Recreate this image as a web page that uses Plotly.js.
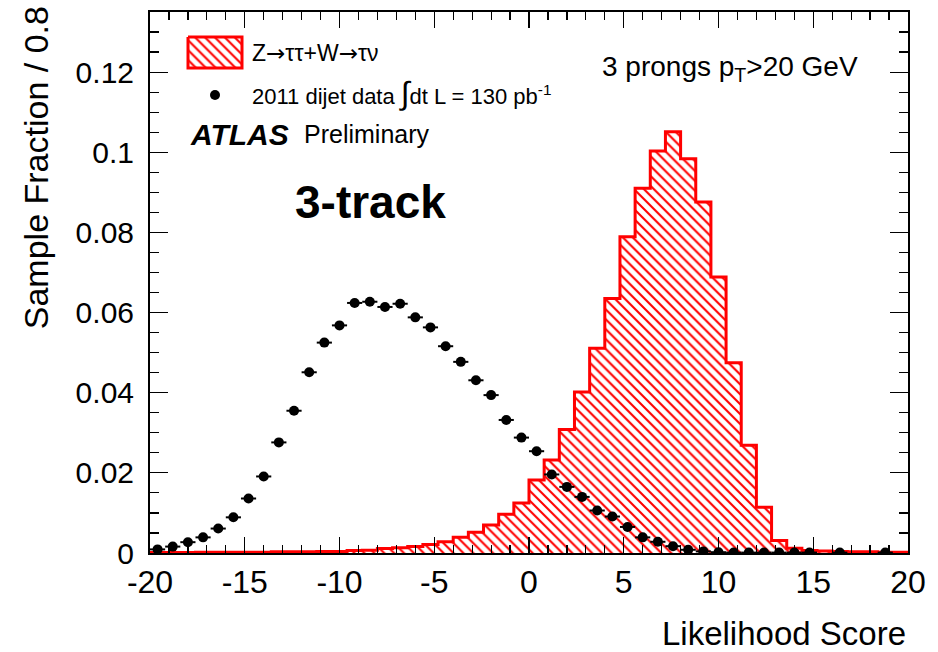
<!DOCTYPE html>
<html>
<head>
<meta charset="utf-8">
<script src="https://cdn.plot.ly/plotly-3.0.1.min.js"></script>
<style>html,body{margin:0;padding:0;background:#fff;}#chart{width:938px;height:652px;}</style>
</head>
<body>
<div id="chart"></div>
<script>
// Signal histogram (Z->tautau + W->taunu), bin centres and fractions, bin width 0.8
const binCenters = [-19.6,-18.8,-18.0,-17.2,-16.4,-15.6,-14.8,-14.0,-13.2,-12.4,
  -11.6,-10.8,-10.0,-9.2,-8.4,-7.6,-6.8,-6.0,-5.2,-4.4,
  -3.6,-2.8,-2.0,-1.2,-0.4,0.4,1.2,2.0,2.8,3.6,
  4.4,5.2,6.0,6.8,7.6,8.4,9.2,10.0,10.8,11.6,
  12.4,13.2,14.0,14.8,15.6,16.4,17.2,18.0,18.8,19.6];
const signalValues = [0.0001,0.0001,0.0001,0.0002,0.0002,0.0002,0.0002,0.0002,0.0003,0.0003,
  0.0003,0.0004,0.0004,0.0006,0.0007,0.0011,0.0013,0.0016,0.0021,0.0028,
  0.0039,0.0052,0.0070,0.0097,0.0125,0.0182,0.0232,0.0308,0.0402,0.0511,
  0.0635,0.0789,0.0910,0.1003,0.1051,0.0984,0.0876,0.0689,0.0475,0.0269,
  0.0114,0.0031,0.0012,0.0006,0.0005,0.0004,0.0003,0.0003,0.0002,0.0002];
const binWidth = 0.8;

// 2011 dijet data points
const dataX = [-19.6,-18.8,-18.0,-17.2,-16.4,-15.6,-14.8,-14.0,-13.2,-12.4,
  -11.6,-10.8,-10.0,-9.2,-8.4,-7.6,-6.8,-6.0,-5.2,-4.4,
  -3.6,-2.8,-2.0,-1.2,-0.4,0.4,1.2,2.0,2.8,3.6,
  4.4,5.2,6.0,6.8,7.6,8.4,9.2,10.0,10.8,11.6,
  12.4,13.2,14.0,14.8,16.4,18.8];
const dataY = [0.0009,0.0016,0.0027,0.0039,0.0061,0.0089,0.0136,0.0191,0.0276,0.0355,
  0.0451,0.0525,0.0568,0.0624,0.0627,0.0614,0.0622,0.0588,0.0563,0.0516,
  0.0477,0.0431,0.0394,0.0332,0.0288,0.0254,0.0196,0.0165,0.0140,0.0106,
  0.0091,0.0065,0.0039,0.0028,0.0017,0.0008,0.0004,0.0002,0.0001,0.0001,
  0.0001,0.0001,0.0001,0.0001,0.0001,0.0001];

const xTickVals = [-20,-15,-10,-5,0,5,10,15,20];
const xTickText = ['-20','-15','-10','-5','0','5','10','15','20'];
const yTickVals = [0,0.02,0.04,0.06,0.08,0.1,0.12];
const yTickText = ['0','0.02','0.04','0.06','0.08','0.1','0.12'];

const FONT = 'Liberation Sans, Arial, Helvetica, sans-serif';
const RED = '#ff0000';

// step outline from bin edges
const edges = binCenters.map(c => c - binWidth/2).concat([binCenters[binCenters.length-1] + binWidth/2]);
const stepY = signalValues.concat([signalValues[signalValues.length-1]]);

const hatch = {shape:'\\', fgcolor:RED, bgcolor:'white', size:7, solidity:0.3, fillmode:'replace'};

const traces = [
  {type:'bar', x:binCenters, y:signalValues, width:binWidth,
   marker:{color:'white', line:{width:0}, pattern:hatch},
   showlegend:false, hoverinfo:'skip'},
  {type:'scatter', mode:'lines', x:edges, y:stepY, line:{shape:'hv', color:RED, width:3},
   showlegend:false, hoverinfo:'skip'},
  {type:'scatter', mode:'markers', x:dataX, y:dataY,
   marker:{color:'black', size:10},
   error_x:{type:'constant', value:binWidth/2, thickness:2, width:0, color:'black'},
   showlegend:false},
  // legend: hatched box and marker on overlay pixel axes
  {type:'scatter', mode:'lines', xaxis:'x2', yaxis:'y2',
   x:[188,242,242,188,188], y:[37,37,68,68,37], fill:'toself', fillcolor:'white',
   fillpattern:hatch, line:{color:RED, width:3}, showlegend:false, hoverinfo:'skip'},
  {type:'scatter', mode:'markers', xaxis:'x2', yaxis:'y2',
   x:[215], y:[95], marker:{color:'black', size:10}, showlegend:false, hoverinfo:'skip'}
];

const ann = (x, y, text, size, extra) => Object.assign({xref:'x2', yref:'y2', x:x, y:y, text:text,
  showarrow:false, xanchor:'left', yanchor:'middle', font:{family:FONT, size:size, color:'black'}}, extra||{});

const ARW = '<span style="font-family:DejaVu Sans">→</span>';

const layout = {
  width:938, height:652,
  margin:{l:150, r:30, t:12, b:99, pad:0},
  paper_bgcolor:'white', plot_bgcolor:'white',
  bargap:0, barmode:'overlay',
  font:{family:FONT, color:'black'},
  xaxis:{range:[-20,20], showgrid:false, zeroline:false, showline:true, linecolor:'black', linewidth:2,
    mirror:'ticks', ticks:'inside', ticklen:16, tickwidth:1.2, tickcolor:'black',
    tickmode:'array', tickvals:xTickVals, ticktext:xTickText,
    tickfont:{family:FONT, size:32, color:'black'},
    minor:{dtick:1, ticks:'inside', ticklen:8, tickwidth:1.2, tickcolor:'black', showgrid:false}},
  yaxis:{range:[0,0.135], showgrid:false, zeroline:false, showline:true, linecolor:'black', linewidth:2,
    mirror:'ticks', ticks:'inside', ticklen:18, tickwidth:1.2, tickcolor:'black',
    tickmode:'array', tickvals:yTickVals, ticktext:yTickText,
    tickfont:{family:FONT, size:30, color:'black'}, ticklabelstandoff:8,
    minor:{dtick:0.005, ticks:'inside', ticklen:9, tickwidth:1.2, tickcolor:'black', showgrid:false}},
  xaxis2:{overlaying:'x', range:[150,908], visible:false, fixedrange:true},
  yaxis2:{overlaying:'y', range:[553,12], visible:false, fixedrange:true},
  annotations:[
    ann(250, 53, 'Z' + ARW + 'ττ+W' + ARW + 'τν', 23),
    ann(250, 93, '2011 dijet data <span style="font-size:32px">∫</span>dt L = 130 pb<sup>-1</sup>', 22),
    ann(188, 134, '<b><i>ATLAS</i></b>', 30),
    ann(302, 134, 'Preliminary', 25),
    ann(600, 68, '3 prongs p<sub>T</sub>&gt;20 GeV', 28),
    ann(293, 202, '<b>3-track</b>', 46),
    {xref:'paper', yref:'paper', x:1, xanchor:'right', y:-0.148, yanchor:'middle', showarrow:false,
     text:'Likelihood Score', font:{family:FONT, size:33, color:'black'}},
    {xref:'paper', yref:'paper', x:-0.15, xanchor:'center', y:1.014, yanchor:'top', textangle:-90, showarrow:false,
     text:'Sample Fraction / 0.8', font:{family:FONT, size:34, color:'black'}}
  ]
};

Plotly.newPlot('chart', traces, layout, {staticPlot:true, displayModeBar:false});
</script>
</body>
</html>
